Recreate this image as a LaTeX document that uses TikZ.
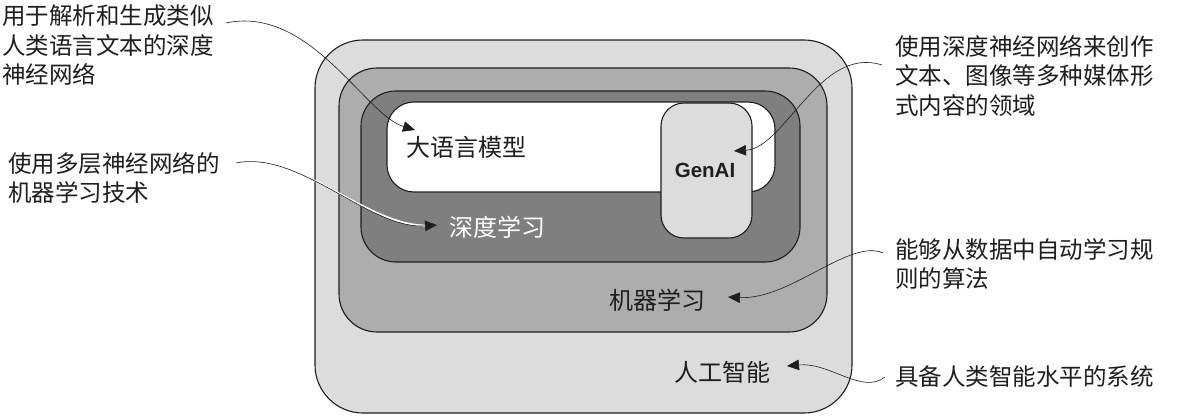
\documentclass[tikz,border=0pt]{standalone}
\usepackage{fontspec}
\setmainfont{Noto Sans CJK SC}
\newfontfamily\latinsans{Liberation Sans}
\usetikzlibrary{arrows.meta}
\definecolor{aigray}{HTML}{DCDCDC}
\definecolor{mlgray}{HTML}{ADADAD}
\definecolor{dlgray}{HTML}{7F7F7F}
\definecolor{ink}{HTML}{1E1E1E}
\begin{document}
\begin{tikzpicture}[x=1pt,y=-1pt,
  layer/.style={draw=ink, line width=1.1pt, inner sep=0pt},
  ann/.style={font=\fontsize{23.5}{29.5}\selectfont, align=left, inner sep=0pt, anchor=north west, text=ink},
  lbl/.style={font=\fontsize{24}{28}\selectfont, inner sep=0pt, text=ink},
  pointer/.style={draw=ink, line width=0.6pt, -{Triangle[length=12pt,width=10.5pt]}},
  halo/.style={preaction={draw=white, line width=2pt, -, shorten >=6pt}}
]
\useasboundingbox (0,0) rectangle (1182,415);
\fill[white] (0,0) rectangle (1182,415);

% nested layers
\node[layer, fill=aigray, rounded corners=48pt, minimum width=537pt, minimum height=373pt] (ai) at (583.5,226.5) {};
\node[layer, fill=mlgray, rounded corners=38pt, minimum width=488pt, minimum height=264pt] (ml) at (583,200) {};
\node[layer, fill=dlgray, rounded corners=35pt, minimum width=439pt, minimum height=171pt] (dl) at (580.5,176.5) {};
\node[layer, fill=white, rounded corners=27pt, minimum width=388pt, minimum height=90pt] (llm) at (581,147) {};
\node[layer, fill=aigray, rounded corners=23pt, minimum width=91pt, minimum height=135pt] (gen) at (706.5,170.5) {};

% labels
\node[lbl] (llmlbl) at (466,147) {大语言模型};
\node[lbl, text=white] (dllbl) at (497,227) {深度学习};
\node[lbl] (mllbl) at (657,300) {机器学习};
\node[lbl] (ailbl) at (722,372) {人工智能};
\node[inner sep=0pt, text=ink, font=\latinsans\bfseries\fontsize{20.5}{24}\selectfont] (genlbl) at (705,170) {GenAI};

% annotations
\node[ann] (n1) at (2,5) {用于解析和生成类似\\人类语言文本的深度\\神经网络};
\node[ann] (n2) at (8,152) {使用多层神经网络的\\机器学习技术};
\node[ann] (n3) at (895,35) {使用深度神经网络来创作\\文本、图像等多种媒体形\\式内容的领域};
\node[ann] (n4) at (895,238) {能够从数据中自动学习规\\则的算法};
\node[ann] (n5) at (895,365) {具备人类智能水平的系统};

% arrow targets
\coordinate (t1) at (415,130);
\coordinate (t2) at (437,225);
\coordinate (t3) at (734,151);
\coordinate (t4) at (728,297);
\coordinate (t5) at (787,366);

% pointers
\draw[pointer] ([xshift=12pt,yshift=-18pt]n1.north east) .. controls (310,5) and (365,115) .. (t1);
\draw[pointer, halo] ([xshift=16pt,yshift=-11pt]n2.north east) .. controls (300,150) and (370,230) .. (t2);
\draw[pointer] ([xshift=-13pt,yshift=-30pt]n3.north west) .. controls (820,45) and (785,148) .. (t3);
\draw[pointer] ([xshift=-12pt,yshift=-15pt]n4.north west) .. controls (850,238) and (790,300) .. (t4);
\draw[pointer] ([xshift=-10pt,yshift=-12pt]n5.north west) .. controls (862,395) and (830,362) .. (t5);
\end{tikzpicture}
\end{document}
